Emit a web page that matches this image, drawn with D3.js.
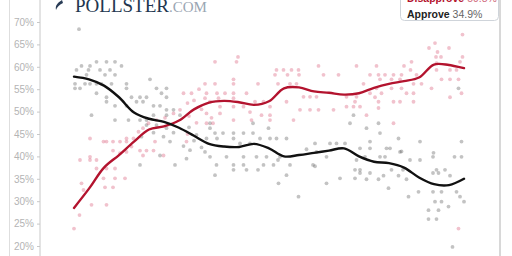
<!DOCTYPE html>
<html>
<head>
<meta charset="utf-8">
<script src="https://cdn.jsdelivr.net/npm/d3@7"></script>
<style>
  html, body { margin: 0; padding: 0; background: #fff; }
  svg { display: block; }
</style>
</head>
<body>
<svg id="chart" width="512" height="256"></svg>
<script>
// week index of each trend estimate
var weeks = [0, 3, 6, 9, 12, 15, 18, 21, 24, 27, 30, 33, 36, 39, 42, 45, 48, 51, 54, 57, 60, 63, 66, 69, 72, 75, 78];

var approveTrend = [57.8, 57.2, 55.8, 53.2, 49.8, 48.4, 47.7, 46.4, 44.6, 42.8, 42.2, 42.1, 42.8, 41.8,
    40.0, 40.3, 40.8, 41.3, 41.8, 40.0, 38.8, 38.5, 37.5, 35.3, 33.8, 33.6, 35.0];

var disapproveTrend = [28.5, 32.8, 37.5, 40.3, 43.3, 46.0, 46.7, 48.0, 50.5, 52.0, 52.4, 52.1, 51.5, 52.3,
    55.2, 55.4, 54.5, 54.2, 53.8, 54.1, 55.3, 56.2, 56.8, 57.6, 60.5, 60.4, 59.7];

// individual polls [week, pct]
var approveDots = [
    [1,68.4],[1.5,60.2],[3.2,60.2],[4.5,61.1],[6.5,61.1],[8.2,61.1],[9.5,60.2],[0.5,59.3],[2.9,59.3],[5.2,59.3],
    [7.2,59.3],[2.5,58.2],[6.2,58.2],[8.2,58.2],[0.2,56.2],[2.2,56.2],[3.2,56.2],[4.5,56.2],[5.5,56.2],[7.5,56.2],
    [10.5,56.2],[0.2,55.2],[1.2,55.2],[4.5,54.1],[6.5,53.2],[10.5,55.2],[15.2,57.2],[16.5,55.2],[18.5,55.2],[6.5,52.2],
    [11.5,53.2],[13.2,53.2],[14.5,53.2],[17.5,54.1],[18.5,53.2],[8.2,51.3],[10.5,51.3],[12.5,52.2],[13.8,52.2],[15.9,51.3],
    [17.2,51.3],[18.5,50.4],[19.9,50.4],[3.5,49.2],[8.2,48.1],[10.9,48.1],[13.2,48.1],[14.5,48.1],[15.9,49.2],[18.5,49.2],
    [21.2,49.2],[14.5,47.0],[16.5,47.0],[18.5,46.3],[19.9,45.3],[15.9,45.3],[17.9,44.4],[19.2,43.3],[21.9,42.3],[23.2,41.4],
    [13.5,44.4],[17.2,40.2],[13.2,38.1],[20.2,38.1],
    [27.2,47.4],[27.2,46.3],[28.2,45.2],[29.8,45.2],[31.9,45.2],[33.9,45.2],[35.8,45.2],[26.5,44.0],[28.6,44.0],[31.9,44.0],
    [37.2,44.0],[39.2,44.0],[40.5,44.0],[42.5,44.0],[33.2,42.9],[35.2,42.9],[26.2,41.0],[27.2,39.9],[30.5,39.9],[33.9,39.9],
    [36.5,39.9],[38.5,39.9],[41.2,39.9],[28.5,38.1],[31.9,38.1],[33.9,38.1],[37.9,38.1],[39.9,38.1],[43.2,38.1],[31.9,37.0],
    [34.5,37.0],[36.8,37.0],[40.8,39.2],[28.2,35.8],[42.5,35.8],[40.9,34.0],[44.9,31.0],[50.5,34.0],[48.2,42.9],[48.5,41.0],
    [50.5,39.9],[52.5,42.9],[46.5,41.6],[47.8,38.1],[48.2,37.8],[53.2,35.1],[56.2,35.1],[55.2,47.4],[56.2,37.0],[55.9,49.2],
    [57.2,37.0],[56.5,39.2],[38.9,46.3],[35.8,47.4],[54.2,42.9],[51.2,42.9],[23,46.5],[24.5,44.8],[25.5,42],[22.5,39.5],[24,43.5],
    [76.9,55.2],[58.5,46.3],[60.9,47.4],[61.2,45.2],[59.2,43.3],[64.9,44.0],[69.2,43.3],[77.5,43.3],[57.2,41.8],[59.2,41.8],
    [62.5,41.8],[63.2,41.8],[65.5,41.1],[71.9,40.8],[58.2,39.9],[61.2,39.9],[62.2,39.9],[65.2,41.0],[67.2,39.2],[69.2,39.2],
    [71.8,39.9],[76.1,39.9],[77.5,39.9],[63.5,37.0],[65.8,37.0],[72.5,37.0],[74.2,37.0],[57.2,36.3],[59.2,36.3],[61.9,35.7],
    [64.9,35.7],[66.5,34.9],[68.9,32.1],[71.8,36.3],[72.9,36.3],[75.2,35.7],[58.5,34.9],[60.9,34.9],[62.9,32.9],[66.9,31.0],
    [71.8,32.1],[73.5,32.1],[76.5,32.1],[72.2,29.9],[73.5,29.9],[74.9,28.8],[77.2,31.0],[78.0,29.9],[70.9,28.0],[72.9,28.0],
    [70.9,26.0],[72.5,26.0],[75.7,19.8]
];

var disapproveDots = [
    [0,23.9],[1.1,26.9],[1.2,39.2],[1.5,34.0],[1.9,32.5],[3.5,29.2],[6.5,29.2],[3.2,39.9],[3.2,39.2],[4.5,39.2],
    [3.2,44.0],[5.9,43.3],[6.5,43.3],[7.8,43.3],[9.2,43.3],[10.5,43.3],[4.5,37.3],[5.9,35.1],[8.2,35.1],[10.2,35.1],
    [6.2,33.1],[7.8,33.1],[6.5,37.3],[8.2,37.3],[9.2,40.7],[7.8,41.3],[10.5,41.0],[11.5,42.2],[13.2,41.3],[14.5,41.3],
    [15.9,41.3],[13.8,40.2],[17.9,40.2],[16.2,43.3],[10.5,44.0],[11.9,44.0],[12.9,45.5],[13.8,46.3],[14.9,47.4],[16.5,48.1],
    [18.2,48.6],[19.9,49.6],[21.2,50.4],[22.7,51.9],[23.5,54.1],[21.9,54.1],[22.5,43.3],[22.7,45.0],
    [28.2,61.1],[32.5,61.1],[48.9,60.2],[56.5,60.2],[40.5,59.3],[41.9,59.3],[43.5,59.3],[44.9,59.3],[40.2,58.2],[42.7,58.2],
    [45,58.2],[49.9,58.2],[52.9,58.2],[26.2,56.2],[28.2,56.2],[31.9,57.2],[31.9,56.2],[36.8,56.2],[40.8,56.2],[43.2,56.2],
    [44.5,56.2],[26.5,54.1],[28.6,54.1],[30.2,54.1],[31.9,54.1],[34.5,54.1],[26.2,53.0],[28.9,53.0],[31.9,53.0],[45.9,53.3],
    [47.2,53.3],[48.5,53.3],[54.5,53.3],[56.5,53.3],[27.2,52.2],[29.2,51.1],[31.9,51.1],[33.9,51.1],[36.2,52.2],[37.9,52.2],
    [39.2,51.1],[42.5,52.2],[45.2,50.4],[47.2,50.4],[48.9,50.4],[51.9,50.4],[54.5,51.1],[55.9,51.1],[26.5,49.6],[29.2,49.6],
    [35.2,49.9],[37.5,49.2],[39.2,49.2],[27.5,48.6],[31.9,48.1],[35.5,48.1],[39.2,48.1],[43.9,48.1],[26.5,47.4],[27.8,47.4],
    [24,52.5],[25,55],[23,49],[25.5,50.5],[24.5,47.5],
    [67.5,61.1],[72.5,60.8],[77.2,61.1],[60.5,60.2],[66.0,60.2],[67.3,59.3],[59.2,58.2],[60.9,58.2],[62.2,58.2],[63.9,58.2],
    [65.5,58.2],[68.5,58.2],[72.5,59.3],[75.2,59.3],[76.5,59.3],[57.9,56.2],[61.2,57.2],[63.5,57.2],[65.2,57.2],[67.9,56.2],
    [69.5,56.2],[71.5,55.2],[73.5,57.2],[75.2,57.2],[76.9,57.2],[60.5,55.2],[63.5,55.2],[65.5,55.2],[59.2,54.1],[61.5,54.1],
    [66.5,54.1],[67.9,54.1],[77.5,54.1],[75.2,53.2],[60.2,53.2],[56.2,52.2],[60.9,52.2],[63.9,52.2],[65.2,52.2],[67.9,52.2],
    [57.2,51.1],[58.5,49.2],[63.9,47.4],[76.9,23.9],[60.9,50.8],
    [77.7,67.2],[72.2,65.3],[71,64.2],[72.7,63.3],[75,64.2],[77.7,62.2],[72.4,62.2],[73.4,62.2],[32.8,62.2]
];

var yTicks = [20, 25, 30, 35, 40, 45, 50, 55, 60, 65, 70];
var legendLabels = ["Disapprove", "Approve"];
var legendValues = ["59.8%", "34.9%"];

var APPROVE_COLOR = "#111111";
var DISAPPROVE_COLOR = "#b3132e";

var svg = d3.select("#chart");

// frame lines
svg.append("line").attr("x1", 9.5).attr("x2", 9.5).attr("y1", 0).attr("y2", 256)
    .attr("stroke", "#dedede").attr("stroke-width", 1);
svg.append("line").attr("x1", 500).attr("x2", 500).attr("y1", 0).attr("y2", 256)
    .attr("stroke", "#d8d8d8").attr("stroke-width", 2);

var x = d3.scaleLinear().domain([0, 78]).range([74, 464]);
var y = d3.scaleLinear().domain([20, 70]).range([246, 22]);

// y axis
var yAxis = svg.append("g")
    .attr("transform", "translate(40,0)")
    .call(d3.axisLeft(y).tickValues(yTicks).tickSize(3).tickPadding(3)
        .tickFormat(function(d) { return d + "%"; }));
yAxis.select(".domain").attr("stroke", "#c8c8c8").attr("d", "M0,0V256");
yAxis.selectAll(".tick line").attr("stroke", "#c8c8c8");
yAxis.selectAll(".tick text")
    .attr("fill", "#b4b4b4")
    .style("font-family", "'Liberation Sans', Arial, sans-serif")
    .style("font-size", "10px");

// dots
svg.append("g").selectAll("circle.app")
    .data(approveDots)
    .enter().append("circle")
    .attr("cx", function(d) { return x(d[0]); })
    .attr("cy", function(d) { return y(d[1]); })
    .attr("r", 1.9)
    .attr("fill", "#444")
    .attr("fill-opacity", 0.32);

svg.append("g").selectAll("circle.dis")
    .data(disapproveDots)
    .enter().append("circle")
    .attr("cx", function(d) { return x(d[0]); })
    .attr("cy", function(d) { return y(d[1]); })
    .attr("r", 1.9)
    .attr("fill", "#d0355a")
    .attr("fill-opacity", 0.3);

// trend lines
var line = d3.line()
    .x(function(d, i) { return x(weeks[i]); })
    .y(function(d) { return y(d); })
    .curve(d3.curveCatmullRom.alpha(0.5));

svg.append("path")
    .datum(disapproveTrend)
    .attr("fill", "none")
    .attr("stroke", DISAPPROVE_COLOR)
    .attr("stroke-width", 2.4)
    .attr("stroke-linejoin", "round")
    .attr("stroke-linecap", "round")
    .attr("d", line);

svg.append("path")
    .datum(approveTrend)
    .attr("fill", "none")
    .attr("stroke", APPROVE_COLOR)
    .attr("stroke-width", 2.4)
    .attr("stroke-linejoin", "round")
    .attr("stroke-linecap", "round")
    .attr("d", line);

// logo
var logo = svg.append("g");
logo.append("path")
    .attr("d", "M62,0 C57,3 55,6 56,10 C57,7 59,5 63,3 Z")
    .attr("fill", "#2a3d57");
var logoText = logo.append("text")
    .attr("x", 75).attr("y", 12)
    .attr("textLength", 132)
    .attr("lengthAdjust", "spacingAndGlyphs")
    .style("font-family", "'Liberation Serif', 'DejaVu Serif', serif")
    .style("font-size", "19px");
logoText.append("tspan").attr("fill", "#22364f").text("POLLSTER");
logoText.append("tspan").attr("fill", "#9aa6b3").style("font-size", "15px").text(".COM");

// legend box
var legend = svg.append("g");
legend.append("rect")
    .attr("x", 400.5).attr("y", -10).attr("width", 98).attr("height", 30.5)
    .attr("rx", 4)
    .attr("fill", "#fff")
    .attr("stroke", "#cfd4da");

var legendColors = [DISAPPROVE_COLOR, "#222"];
var valueColors = ["#d06a7c", "#666"];
legendLabels.forEach(function(label, i) {
    var t = legend.append("text")
        .attr("x", 407).attr("y", 2 + i * 16)
        .style("font-family", "'Liberation Sans', Arial, sans-serif")
        .style("font-size", "10.5px");
    t.append("tspan").attr("fill", legendColors[i]).style("font-weight", "bold").text(label);
    t.append("tspan").attr("fill", valueColors[i]).attr("dx", 3).text(legendValues[i]);
});
</script>
</body>
</html>
